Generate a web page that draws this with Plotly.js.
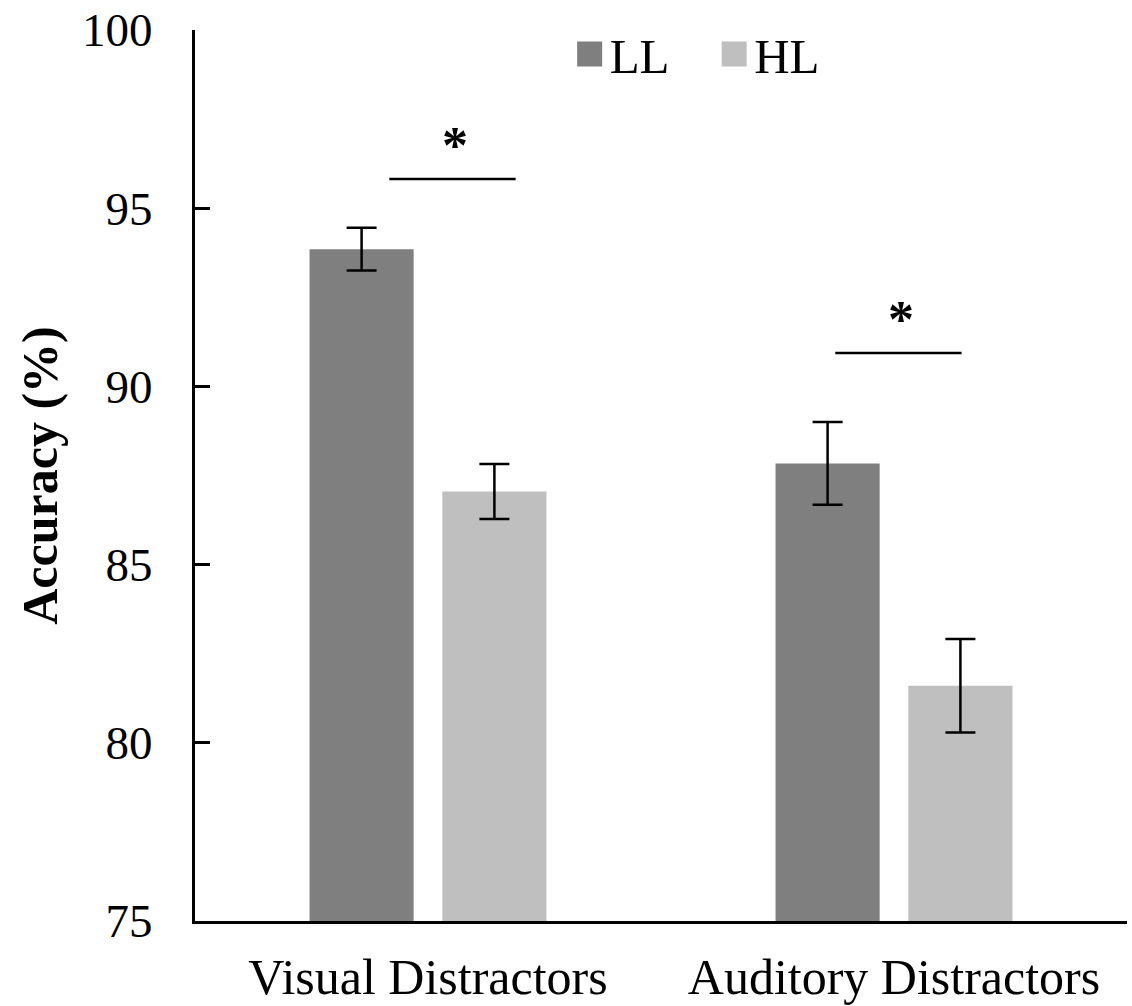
<!DOCTYPE html>
<html>
<head>
<meta charset="utf-8">
<script src="https://cdn.plot.ly/plotly-3.0.1.min.js"></script>
<style>html,body{margin:0;padding:0;background:#fff;}#chart{width:1132px;height:1006px;}</style>
</head>
<body>
<div id="chart"></div>
<script>
// ---- data ----
const categories = ['Visual Distractors', 'Auditory Distractors'];
const seriesNames = ['LL', 'HL'];
const llValues = [93.85, 87.84];
const llErrors = [0.60, 1.16];
const hlValues = [87.05, 81.60];
const hlErrors = [0.77, 1.31];
const yTickValues = [75, 80, 85, 90, 95, 100];
// significance markers: bracket height (in % units) for each category
const sigLabels = ['*', '*'];
const sigLevels = [95.82, 90.94];

// ---- style ----
const FONT = 'Liberation Serif, Times New Roman, serif';
const colors = ['#7f7f7f', '#bfbfbf'];

const errStyle = (arr) => ({type: 'data', array: arr, visible: true, color: '#000', thickness: 2.5, width: 15});

const traces = [
  {type: 'bar', name: seriesNames[0], x: categories, y: llValues, error_y: errStyle(llErrors),
   marker: {color: colors[0], line: {width: 0}}},
  {type: 'bar', name: seriesNames[1], x: categories, y: hlValues, error_y: errStyle(hlErrors),
   marker: {color: colors[1], line: {width: 0}}}
];

// bracket offsets relative to category centre (category units)
const lineOffsets = [[-0.083, 0.188], [-0.126, 0.145]];
const starOffsets = [0.059, 0.014];

const shapes = [];
const annotations = [];
sigLevels.forEach((lvl, i) => {
  shapes.push({type: 'line', xref: 'x', yref: 'y', x0: i + lineOffsets[i][0], x1: i + lineOffsets[i][1],
    y0: lvl, y1: lvl, line: {color: '#000', width: 2.5}});
  annotations.push({xref: 'x', yref: 'y', x: i + starOffsets[i], y: lvl, yanchor: 'bottom', yshift: 3,
    text: sigLabels[i], showarrow: false, font: {family: FONT, size: 52, color: '#000', weight: 'bold'}});
});

const layout = {
  width: 1132, height: 1006,
  margin: {l: 195, r: 5, t: 29.5, b: 84.5},
  paper_bgcolor: '#fff', plot_bgcolor: '#fff',
  showlegend: true,
  legend: {orientation: 'h', x: 0.402, xanchor: 'left', y: 0.973, yanchor: 'middle',
    font: {family: FONT, size: 49, color: '#000'}, bgcolor: 'rgba(0,0,0,0)',
    entrywidth: 99.5, entrywidthmode: 'pixels'},
  bargap: 0.43, bargroupgap: 0.216,
  xaxis: {type: 'category', showline: true, linecolor: '#000', linewidth: 3, ticks: '',
    showgrid: false, zeroline: false, tickfont: {family: FONT, size: 50, color: '#000'},
    ticklabelstandoff: 10},
  yaxis: {range: [75, 100], showline: true, linecolor: '#000', linewidth: 3, ticks: 'inside',
    ticklen: 15, tickwidth: 3, tickcolor: '#000', tickvals: yTickValues, showgrid: false, zeroline: false,
    tickfont: {family: FONT, size: 47, color: '#000'}, ticklabelstandoff: 30,
    title: {text: 'Accuracy (%)', font: {family: FONT, size: 50, color: '#000', weight: 'bold'}, standoff: 9}},
  shapes: shapes,
  annotations: annotations
};

Plotly.newPlot('chart', traces, layout, {staticPlot: true, displayModeBar: false}).then(gd => {
  // enlarge the legend swatches to match the reference's larger squares (keep Plotly's own translate)
  gd.querySelectorAll('.legendpoints path').forEach(p => {
    p.setAttribute('d', 'M12.5,12.5H-12.5V-12.5H12.5Z');
  });
});
</script>
</body>
</html>
